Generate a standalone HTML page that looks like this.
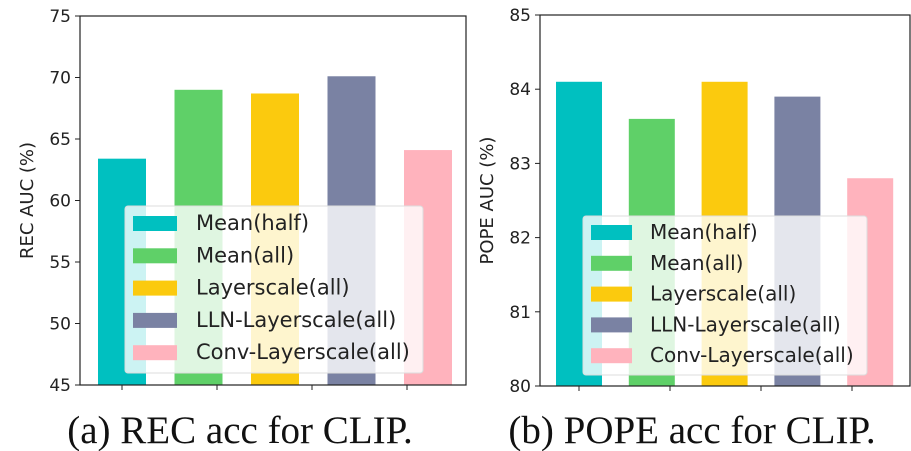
<!DOCTYPE html>
<html><head><meta charset="utf-8"><style>
html,body{margin:0;padding:0;background:#fff;}
svg{display:block;font-family:"DejaVu Sans","Liberation Sans",sans-serif;}
</style></head><body>
<svg id="chart" width="911" height="451" xmlns="http://www.w3.org/2000/svg"></svg>
<script>
const categories = ["Mean(half)","Mean(all)","Layerscale(all)","LLN-Layerscale(all)","Conv-Layerscale(all)"];
const colors = ["#00c0c0","#5fd068","#fbca0e","#7a82a3","#ffb3bd"];
const recValues = [63.4, 69.0, 68.7, 70.1, 64.1];
const popeValues = [84.1, 83.6, 84.1, 83.9, 82.8];
const recTicks = [45,50,55,60,65,70,75];
const popeTicks = [80,81,82,83,84,85];

const NS="http://www.w3.org/2000/svg";
const svg=document.getElementById('chart');
function mk(tag,attrs,parent){const e=document.createElementNS(NS,tag);for(const k in attrs)e.setAttribute(k,attrs[k]);(parent||svg).appendChild(e);return e;}

function panel(cfg){
  const g=mk('g',{});
  
  
  const y=v=>cfg.y1+(v-cfg.vmin)/(cfg.vmax-cfg.vmin)*(cfg.y0-cfg.y1);
  const y0=y(cfg.vmin);
  cfg.values.forEach((v,i)=>{
    const r=mk('rect',{x:cfg.barX0+i*cfg.step,y:y(v),width:cfg.barW,height:y0-y(v),fill:colors[i]},g);
    
    
  });
  const f=mk('rect',{x:cfg.x0,y:cfg.y0,width:cfg.x1-cfg.x0,height:cfg.y1-cfg.y0,fill:'none',stroke:'#222','stroke-width':1.2},g);
  
  
  cfg.ticks.forEach(t=>{
    mk('line',{x1:cfg.x0-5,x2:cfg.x0,y1:y(t),y2:y(t),stroke:'#222','stroke-width':1},g);
    const tl=mk('text',{x:cfg.x0-9,y:y(t)+6,'text-anchor':'end','font-size':17,fill:'#222'},g);
    tl.textContent=t;
    
    
  });
  cfg.xticks.forEach(t=>mk('line',{x1:t,x2:t,y1:cfg.y1,y2:cfg.y1+5,stroke:'#222','stroke-width':1},g));
  const yl=mk('text',{x:cfg.ylx,y:(cfg.y0+cfg.y1)/2,'text-anchor':'middle','font-size':18,fill:'#222',transform:`rotate(-90 ${cfg.ylx} ${(cfg.y0+cfg.y1)/2})`},g);
  yl.textContent=cfg.ylabel;
  
  
  const lg=mk('g',{},g);
  
  
  mk('rect',{x:cfg.lx,y:cfg.ly,width:cfg.lw,height:cfg.lh,rx:3,fill:'rgba(255,255,255,0.8)',stroke:'#ddd'},lg);
  categories.forEach((c,i)=>{
    const cy=cfg.rowY0+i*cfg.rowStep;
    const e=mk('g',{},lg);
    
    
    mk('rect',{x:cfg.px,y:cy-7,width:cfg.pw,height:15,fill:colors[i]},e);
    const t=mk('text',{x:cfg.tx,y:cy+7,'font-size':cfg.lfs,fill:'#222'},e);
    t.textContent=c;
  });
  const cap=mk('text',{x:cfg.capX,y:443,'text-anchor':'middle','font-size':39,fill:'#111','font-family':'"Liberation Serif",serif'},g);
  cap.textContent=cfg.caption;
  
  
}

panel({name:'rec-chart',values:recValues,ticks:recTicks,vmin:45,vmax:75,x0:80,x1:466,y0:16,y1:385,
  barX0:98,step:76.5,barW:48,xticks:[122,217,312,407],ylx:33,ylabel:'REC AUC (%)',lfs:21,
  lx:125,ly:206,lw:298,lh:167,rowY0:223,rowStep:32.3,px:133,pw:44,tx:196,capX:240,caption:'(a) REC acc for CLIP.'});
panel({name:'pope-chart',values:popeValues,ticks:popeTicks,vmin:80,vmax:85,x0:540,x1:910,y0:15,y1:386,
  barX0:556,step:72.8,barW:46,xticks:[579,670,761,852],ylx:493,ylabel:'POPE AUC (%)',lfs:20,
  lx:583,ly:216,lw:284,lh:159,rowY0:232,rowStep:30.8,px:591,pw:41,tx:650,capX:692,caption:'(b) POPE acc for CLIP.'});
</script>
</body></html>
